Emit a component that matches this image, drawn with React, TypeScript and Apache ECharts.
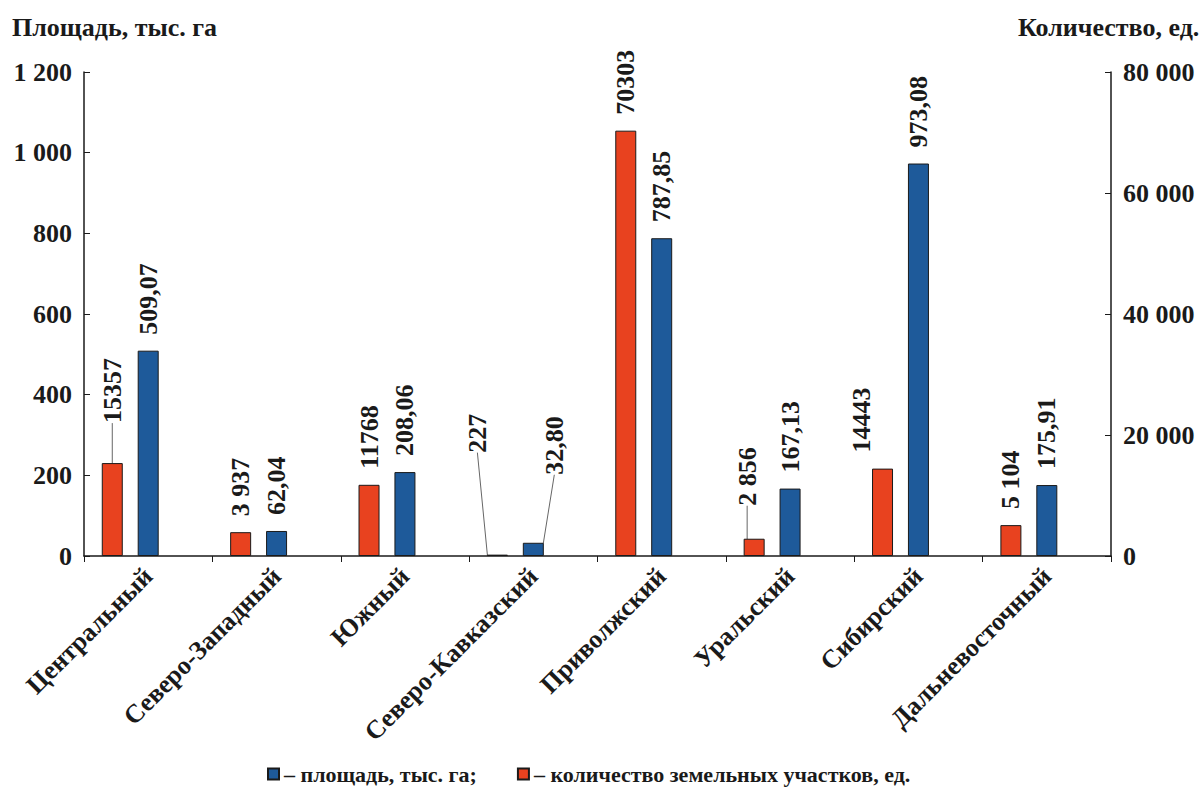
import React, { useEffect, useRef } from "react";
import * as echarts from "echarts";

const categories = [
  "Центральный",
  "Северо-Западный",
  "Южный",
  "Северо-Кавказский",
  "Приволжский",
  "Уральский",
  "Сибирский",
  "Дальневосточный",
];
const areaValues = [509.07, 62.04, 208.06, 32.8, 787.85, 167.13, 973.08, 175.91];
const countValues = [15357, 3937, 11768, 227, 70303, 2856, 14443, 5104];
const leftTicks = { min: 0, max: 1200, interval: 200 };
const rightTicks = { min: 0, max: 80000, interval: 20000 };

const AREA_NAME = "площадь, тыс. га";
const COUNT_NAME = "количество земельных участков, ед.";

// screen displacement (px) for crowded labels: [right, down, showLeaderLine]
const countLabelShift: Record<number, [number, number, boolean]> = {
  0: [0, -24, true],
  3: [-20, -86, true],
  5: [-7, -17, true],
  6: [-21, 0, false],
};
const areaLabelShift: Record<number, [number, number, boolean]> = {
  3: [21, -52, true],
};

const FONT = "Liberation Serif";
const RED = "#E8421F";
const BLUE = "#1E5A9A";

const spaced = (v: number) => {
  const s = String(Math.round(v));
  return s.replace(/\B(?=(\d{3})+(?!\d))/g, " ");
};

export default function App() {
  const ref = useRef<HTMLDivElement>(null);
  useEffect(() => {
    if (!ref.current) return;
    const chart = echarts.init(ref.current, undefined, { renderer: "svg" });
    const labelBase = {
      show: true,
      position: "top",
      rotate: 90,
      align: "left",
      verticalAlign: "middle",
      distance: 16,
      fontFamily: FONT,
      fontWeight: "bold",
      fontSize: 26,
      color: "#1a1a1a",
    };
    const mkData = (vals: number[], shifts: Record<number, [number, number, boolean]>) =>
      vals.map((v, i) => ({
        value: v,
        labelLine: { show: !!(shifts[i] && shifts[i][2]), lineStyle: { color: "#666", width: 1 } },
      }));
    // label is rotated 90°, so its local dx points up and dy points right
    const mkLayout = (shifts: Record<number, [number, number, boolean]>) => (p: any) => {
      const s = shifts[p.dataIndex];
      return s ? { dx: -s[1], dy: s[0] } : {};
    };
    const option: any = {
      animation: false,
      backgroundColor: "#ffffff",
      textStyle: { fontFamily: FONT },
      grid: { left: 84, right: 90, top: 72, bottom: 248, containLabel: false },
      legend: {
        data: [AREA_NAME, COUNT_NAME],
        bottom: 14,
        left: 262,
        itemWidth: 11,
        itemHeight: 11,
        itemGap: 40,
        icon: "rect",
        textStyle: { fontFamily: FONT, fontWeight: "bold", fontSize: 22, color: "#1a1a1a" },
        formatter: (name: string) => (name === AREA_NAME ? "– " + name + ";" : "– " + name),
      },
      graphic: [
        {
          type: "text",
          left: 12,
          top: 14,
          style: { text: "Площадь, тыс. га", fontFamily: FONT, fontWeight: "bold", fontSize: 26, fill: "#1a1a1a" },
        },
        {
          type: "text",
          left: 1018,
          top: 14,
          style: { text: "Количество, ед.", fontFamily: FONT, fontWeight: "bold", fontSize: 26, fill: "#1a1a1a" },
        },
      ],
      xAxis: {
        type: "category",
        data: categories,
        axisLine: { lineStyle: { color: "#1a1a1a", width: 1.5 } },
        axisTick: { show: true, alignWithLabel: false, length: 6, lineStyle: { color: "#1a1a1a" } },
        axisLabel: {
          interval: 0,
          rotate: 45,
          margin: 16,
          fontFamily: FONT,
          fontWeight: "bold",
          fontSize: 26,
          color: "#1a1a1a",
        },
      },
      yAxis: [
        {
          type: "value",
          min: leftTicks.min,
          max: leftTicks.max,
          interval: leftTicks.interval,
          position: "left",
          splitLine: { show: false },
          axisLine: { show: true, lineStyle: { color: "#1a1a1a", width: 1.5 } },
          axisTick: { show: true, inside: true, length: 6, lineStyle: { color: "#1a1a1a" } },
          axisLabel: {
            margin: 12,
            fontFamily: FONT,
            fontWeight: "bold",
            fontSize: 26,
            color: "#1a1a1a",
            formatter: (v: number) => spaced(v),
          },
        },
        {
          type: "value",
          min: rightTicks.min,
          max: rightTicks.max,
          interval: rightTicks.interval,
          position: "right",
          splitLine: { show: false },
          axisLine: { show: true, lineStyle: { color: "#1a1a1a", width: 1.5 } },
          axisTick: { show: true, inside: true, length: 6, lineStyle: { color: "#1a1a1a" } },
          axisLabel: {
            margin: 12,
            fontFamily: FONT,
            fontWeight: "bold",
            fontSize: 26,
            color: "#1a1a1a",
            formatter: (v: number) => spaced(v),
          },
        },
      ],
      series: [
        {
          name: COUNT_NAME,
          type: "bar",
          yAxisIndex: 1,
          barWidth: 21,
          barGap: "71%",
          data: mkData(countValues, countLabelShift),
          itemStyle: { color: RED, borderColor: "#1a1a1a", borderWidth: 1 },
          label: { ...labelBase, formatter: (p: any) => (p.value < 10000 ? spaced(p.value) : String(p.value)) },
          labelLayout: mkLayout(countLabelShift),
        },
        {
          name: AREA_NAME,
          type: "bar",
          yAxisIndex: 0,
          barWidth: 21,
          barGap: "71%",
          data: mkData(areaValues, areaLabelShift),
          itemStyle: { color: BLUE, borderColor: "#1a1a1a", borderWidth: 1 },
          label: { ...labelBase, formatter: (p: any) => p.value.toFixed(2).replace(".", ",") },
          labelLayout: mkLayout(areaLabelShift),
        },
        {
          name: "spacer",
          type: "bar",
          yAxisIndex: 0,
          barWidth: 21,
          barGap: "71%",
          data: categories.map(() => null),
          silent: true,
        },
      ],
    };
    chart.setOption(option);
    return () => chart.dispose();
  }, []);
  return (
    <div
      ref={ref}
      style={{ position: "fixed", left: 0, top: 0, width: 1201, height: 804, background: "#fff" }}
    />
  );
}
